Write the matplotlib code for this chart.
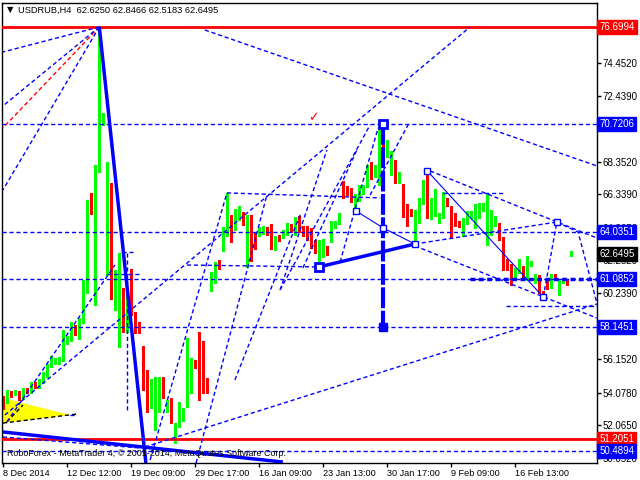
import matplotlib
matplotlib.use('Agg')
import matplotlib.pyplot as plt
import numpy as np

plt.rcParams['font.family'] = ['Liberation Sans', 'DejaVu Sans']

# USDRUB H4 candles
opens = [53.68, 53.62, 54.11, 53.99, 54.11, 53.74, 54.24, 54.11, 54.67, 54.42,
         54.73, 55.10, 55.72, 55.91, 55.91, 56.09, 57.14, 57.33, 58.14, 57.64,
         58.45, 60.30, 65.81, 59.62, 67.85, 70.76, 66.74, 66.92, 59.99, 58.45,
         59.87, 58.14, 60.86, 59.00, 58.02, 56.90, 55.35, 53.25, 53.25, 53.25,
         54.79, 53.00, 53.37, 51.14, 52.01, 52.45, 53.31, 55.04, 55.91, 57.70,
         57.14, 54.86, 60.86, 61.42, 62.10, 63.33, 63.83, 64.57, 64.70, 64.82,
         65.13, 63.02, 64.94, 63.83, 63.83, 63.95, 64.26, 64.26, 63.09, 63.71,
         63.71, 63.89, 64.32, 64.14, 64.63, 64.14, 64.20, 63.95, 63.40, 62.34,
         62.84, 62.96, 63.46, 64.32, 64.57, 66.92, 66.68, 66.55, 65.69, 66.00,
         66.49, 66.86, 68.04, 67.54, 67.05, 69.58, 68.90, 68.16, 68.41, 67.17,
         66.61, 65.62, 65.19, 63.77, 64.94, 65.87, 67.36, 65.13, 65.25, 64.63,
         64.94, 65.93, 65.38, 64.88, 64.57, 63.95, 64.57, 65.07, 64.32, 64.94,
         65.50, 63.95, 64.39, 64.45, 64.51, 63.64, 62.28, 61.97, 61.23, 61.54,
         61.79, 61.23, 61.97, 60.92, 61.29, 60.30, 60.92, 60.61, 61.29, 60.61,
         60.92, 60.98, 62.625]
highs = [53.87, 54.24, 54.18, 54.24, 54.18, 54.36, 54.36, 54.73, 54.73, 54.92,
         55.35, 55.85, 56.34, 56.22, 56.28, 57.95, 57.58, 58.45, 58.26, 58.69,
         61.04, 66.00, 66.43, 68.16, 76.6994, 71.38, 68.35, 67.05, 61.66, 62.71,
         60.55, 60.43, 61.72, 59.06, 58.45, 56.96, 55.48, 54.92, 55.04, 55.04,
         55.04, 53.62, 53.74, 52.20, 53.50, 53.12, 57.46, 56.22, 56.09, 57.83,
         57.27, 54.98, 61.54, 62.16, 62.28, 64.32, 66.43, 65.07, 65.44, 65.62,
         65.25, 65.07, 65.07, 64.01, 64.32, 64.39, 64.32, 64.51, 63.77, 63.83,
         64.14, 64.57, 64.51, 64.94, 65.00, 64.39, 64.39, 64.26, 63.52, 63.52,
         63.58, 63.15, 64.70, 64.70, 65.19, 67.17, 66.86, 66.74, 66.37, 66.92,
         66.92, 68.16, 68.35, 68.16, 70.39, 70.7206, 69.71, 69.02, 68.47, 67.73,
         66.98, 65.75, 65.44, 65.38, 66.12, 67.23, 67.79, 66.12, 66.68, 65.19,
         66.49, 66.12, 65.62, 65.19, 64.70, 64.88, 65.32, 65.32, 65.75, 65.81,
         65.81, 66.43, 65.38, 65.00, 64.57, 63.71, 62.34, 62.03, 61.79, 62.34,
         61.91, 62.53, 62.22, 61.42, 61.35, 60.36, 61.04, 61.42, 61.42, 61.04,
         61.04, 61.04, 62.8466]
lows = [53.06, 53.43, 53.80, 53.93, 53.62, 53.68, 54.05, 54.05, 54.36, 54.36,
        54.67, 55.04, 55.66, 55.85, 55.85, 56.03, 57.08, 57.27, 57.64, 57.39,
        58.38, 60.24, 65.13, 59.50, 67.73, 70.64, 61.35, 59.87, 59.19, 56.90,
        57.83, 57.83, 58.88, 57.77, 57.77, 54.24, 52.88, 53.12, 51.76, 52.88,
        53.74, 52.88, 52.20, 50.96, 51.95, 52.32, 53.19, 54.05, 55.60, 53.62,
        54.05, 54.05, 60.36, 60.86, 61.72, 62.84, 63.77, 63.40, 64.14, 64.76,
        64.45, 61.85, 62.22, 62.96, 63.77, 63.89, 63.83, 62.96, 62.90, 63.46,
        63.64, 63.83, 64.01, 63.83, 64.01, 63.77, 63.52, 63.02, 62.71, 61.79,
        62.47, 62.59, 63.40, 64.26, 64.51, 66.12, 66.30, 65.87, 65.25, 65.93,
        66.37, 66.80, 67.30, 67.42, 66.92, 68.66, 68.66, 67.54, 67.05, 67.05,
        64.94, 64.39, 65.00, 63.33, 64.57, 65.75, 64.88, 64.82, 65.00, 64.57,
        64.88, 65.62, 63.64, 64.39, 64.32, 63.77, 64.51, 64.88, 64.26, 64.88,
        65.32, 63.21, 63.83, 64.39, 63.52, 61.66, 61.66, 60.73, 61.17, 61.48,
        61.11, 61.04, 61.91, 60.86, 60.24, 59.87, 60.49, 60.55, 61.04, 60.12,
        60.86, 60.73, 62.5183]
closes = [53.25, 54.11, 53.99, 54.11, 53.68, 54.18, 54.11, 54.67, 54.42, 54.73,
          55.17, 55.78, 55.97, 55.97, 56.15, 57.21, 57.39, 58.14, 57.77, 58.57,
          60.43, 65.87, 65.25, 68.04, 71.07, 71.01, 67.05, 59.99, 61.04, 59.87,
          58.14, 60.30, 59.00, 57.95, 57.89, 55.29, 53.25, 54.79, 53.37, 54.79,
          53.87, 53.37, 52.69, 52.07, 52.51, 52.82, 55.04, 55.91, 55.78, 56.96,
          54.79, 54.42, 61.42, 62.10, 61.79, 63.95, 64.57, 64.45, 64.82, 65.13,
          64.88, 64.94, 63.71, 63.71, 64.01, 64.26, 63.89, 63.21, 63.71, 63.58,
          63.89, 64.32, 64.20, 64.63, 64.08, 64.01, 63.95, 63.40, 63.02, 62.90,
          62.96, 62.65, 64.45, 64.57, 65.07, 66.61, 66.43, 66.06, 66.06, 66.86,
          66.86, 68.04, 67.60, 67.91, 69.58, 68.90, 69.21, 68.41, 67.17, 67.54,
          65.56, 65.00, 65.13, 65.00, 65.93, 66.61, 65.07, 65.38, 65.50, 65.00,
          65.87, 65.75, 64.88, 64.51, 64.51, 64.63, 65.13, 65.19, 65.00, 65.56,
          65.62, 64.39, 64.63, 64.88, 63.58, 62.10, 61.85, 61.23, 61.66, 61.97,
          61.17, 62.03, 62.10, 61.29, 60.30, 59.99, 60.86, 61.29, 61.23, 60.92,
          60.98, 60.86, 62.6495]

date_pos = [0, 16, 32, 48, 64, 80, 96, 112, 128]
date_lbl = ['8 Dec 2014', '12 Dec 12:00', '19 Dec 09:00', '29 Dec 17:00', '16 Jan 09:00',
            '23 Jan 13:00', '30 Jan 17:00', '9 Feb 09:00', '16 Feb 13:00']
price_ticks = [74.452, 72.439, 70.426, 68.352, 66.339, 64.265, 62.252, 60.239,
               58.226, 56.152, 54.078, 52.065, 50.052]

# horizontal levels
red_levels = [76.6994, 51.2051]
blue_levels = [70.7206, 64.0351, 61.0852, 58.1451, 50.4894]
# price labels on the scale
lbl_prices = [76.6994, 70.7206, 64.0351, 62.6495, 61.0852, 58.1451, 51.2051, 50.4894]
lbl_colors = ['#FF0000', '#0000FF', '#0000FF', '#000000', '#0000FF', '#0000FF', '#FF0000', '#0000FF']

# drawn objects (bar index, price)
fan_red = [(24, 76.6994), (-0.1, 70.45)]
fans_blue = [[(24, 76.6994), (-0.1, 75.15)],
             [(24, 76.6994), (-0.1, 71.81)],
             [(24, 76.6994), (-0.1, 66.61)]]
dashed_lines = [
    [(0.4, 52.69), (116.7, 76.70)],
    [(50.4, 76.51), (148.4, 68.10)],
    [(35.4, 50.71), (148.4, 59.56)],
    [(36.7, 49.90), (55.9, 66.43)],
    [(48.2, 49.72), (65.9, 66.30)],
    [(57.9, 54.86), (74.2, 65.07)],
    [(69.2, 60.43), (91.7, 70.64)],
    [(69.2, 60.43), (80.9, 69.09)],
    [(74.9, 61.79), (88.4, 69.09)],
    [(84.2, 62.16), (93.7, 70.45)],
    [(91.7, 66.30), (101.2, 70.64)],
    [(0.9, 52.26), (27.9, 61.97)],
    [(55.9, 66.43), (94.2, 66.12)],
    [(45.9, 61.97), (79.2, 61.85)],
    [(109.9, 66.43), (125.4, 66.43)],
    [(125.7, 59.43), (148.4, 59.43)],
    [(106.7, 67.79), (148.4, 63.64)],
    [(102.9, 63.27), (138.4, 64.63)],
    [(102.9, 63.15), (148.4, 58.69)],
    [(30.9, 62.71), (30.9, 53.00)],
    [(29.7, 62.77), (32.4, 62.77)],
    [(25.9, 61.42), (34.2, 61.42)],
    [(-0.1, 51.33), (34.2, 50.65)],
    [(16.7, 52.69), (18.4, 52.69)],
]
forecast = [(135, 59.99), (138.4, 64.63), (143.7, 64.01), (148.4, 59.62)]
wave_thin = [(88.2, 65.31), (95, 64.26), (102.9, 63.27)]
diag_thin = [(106, 67.79), (135, 59.99)]
thick_lines = [[(24, 76.6994), (35.7, 49.60)],
               [(-0.1, 51.64), (69.9, 49.78)],
               [(78.9, 61.85), (102.9, 63.27)]]
thick_vert = [(95, 70.7206), (95, 58.1451)]
squares = [(95, 64.26), (88.2, 65.31), (102.9, 63.27), (106, 67.79), (135, 59.99), (138.4, 64.63)]
big_squares = [(95, 70.7206), (78.9, 61.85)]
tri_x = [-0.1, -0.1, 16.7]
tri_y = [53.74, 52.19, 52.69]
black_dash = [[(-0.1, 52.19), (18.4, 52.75)], [(0.9, 52.26), (4.9, 53.31)]]

fig = plt.figure(figsize=(6.4, 4.8), dpi=100)
ax = fig.add_axes([2/640, 17/480, 595/640, 460/480])
ax.set_xlim(-0.33, 148.43)
ax.set_ylim(49.72, 78.18)

o = np.array(opens); h = np.array(highs); l = np.array(lows); c = np.array(closes)
x = np.arange(len(o))
col = np.where(c >= o, '#00FF00', '#FF0000')
ax.vlines(x, l, h, colors=col, lw=1, zorder=2, antialiased=False)
ax.bar(x, np.maximum(np.abs(c - o), 0.07), bottom=np.minimum(o, c), width=0.75,
       color=col, linewidth=0, zorder=2, antialiased=False)

dash = (0, (3, 2))
ax.fill(tri_x, tri_y, color='#FFFF00', zorder=1, lw=0)
for seg in black_dash:
    xs, ys = zip(*seg)
    ax.plot(xs, ys, color='black', lw=1, ls=dash, zorder=3)

for p in red_levels:
    ax.axhline(p, color='#FF0000', lw=2, zorder=3)
for p in blue_levels:
    ax.axhline(p, color='#0000FF', lw=1, ls=dash, zorder=3)
ax.plot([116.7, 148.4], [61.0852, 61.0852], color='#0000FF', lw=2.5, ls=(0, (1.4, 1.0)), zorder=3)

xs, ys = zip(*fan_red)
ax.plot(xs, ys, color='#FF0000', lw=1, ls=dash, zorder=3)
for seg in fans_blue + dashed_lines:
    xs, ys = zip(*seg)
    ax.plot(xs, ys, color='#0000FF', lw=1, ls=dash, zorder=3)
xs, ys = zip(*forecast)
ax.plot(xs, ys, color='#0000FF', lw=1, ls=dash, zorder=3)
for seg in [wave_thin, diag_thin]:
    xs, ys = zip(*seg)
    ax.plot(xs, ys, color='#0000FF', lw=0.8, zorder=3)
for seg in thick_lines:
    xs, ys = zip(*seg)
    ax.plot(xs, ys, color='#0000FF', lw=2.5, zorder=3, solid_capstyle='butt')
xs, ys = zip(*thick_vert)
ax.plot(xs, ys, color='#0000FF', lw=3, ls=(0, (5, 0.6)), zorder=3)
ax.plot([s[0] for s in squares], [s[1] for s in squares], 's', ms=4,
        mfc='white', mec='#0000FF', mew=1, zorder=4)
ax.plot([s[0] for s in big_squares], [s[1] for s in big_squares], 's', ms=6,
        mfc='white', mec='#0000FF', mew=2, zorder=4)
ax.plot([95], [58.1451], 's', ms=6, color='#0000FF', zorder=4)
ax.text(77.4, 71.07, '\u2713', color='#FF0000', fontsize=9, ha='center', va='center',
        family=['DejaVu Sans'], zorder=4)

# axes / ticks
for s in ax.spines.values():
    s.set_color('black')
    s.set_linewidth(1)
ax.yaxis.tick_right()
ax.set_yticks(price_ticks)
ax.set_yticklabels(['%.4f' % t for t in price_ticks])
ax.tick_params(axis='y', direction='out', length=3, width=1, pad=1.2, labelsize=7)
ax.set_xticks(date_pos)
ax.set_xticklabels(date_lbl, ha='left')
ax.tick_params(axis='x', direction='out', length=3, width=1, pad=1, labelsize=6.6)

for p, cl in zip(lbl_prices, lbl_colors):
    ax.text(1.004, p, '%.4f' % p, transform=ax.get_yaxis_transform(), color='white',
            fontsize=7, ha='left', va='center', zorder=6, clip_on=False,
            bbox=dict(boxstyle='square,pad=0.2', fc=cl, ec=cl))

fig.text(7/640, 1 - 10/480, '\u25bc', fontsize=6, va='center', family=['DejaVu Sans'])
fig.text(18/640, 1 - 10/480, 'USDRUB,H4  62.6250 62.8466 62.5183 62.6495', fontsize=6.7, va='center')
fig.text(7/640, 1 - 454/480, 'RoboForex - MetaTrader 4, \u00a9 2001-2014, MetaQuotes Software Corp.',
         fontsize=6.4, va='center')

fig.savefig('out.png', dpi=100)
